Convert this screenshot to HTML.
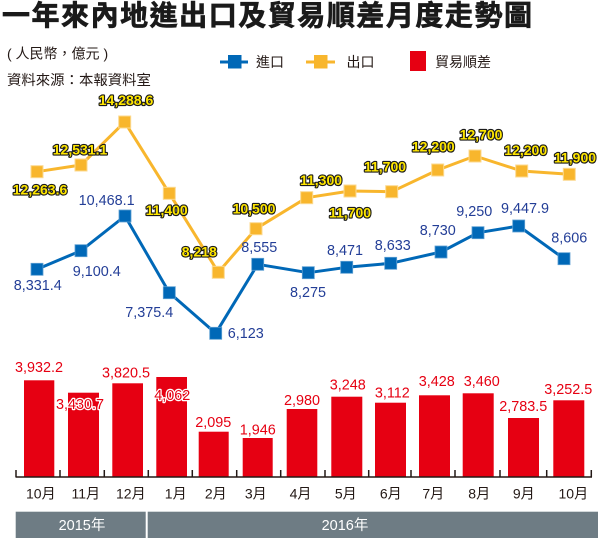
<!DOCTYPE html>
<html><head><meta charset="utf-8"><style>
html,body{margin:0;padding:0;background:#fff;}
svg{display:block;}
.t{font-family:"Liberation Sans","Noto Sans CJK TC",sans-serif;}
.y{font-family:"Liberation Sans",sans-serif;font-weight:bold;font-size:14px;fill:#ffe600;stroke:#1a1a1a;stroke-width:2.3;stroke-linejoin:round;paint-order:stroke;text-anchor:middle;}
.b{font-family:"Liberation Sans",sans-serif;font-size:14.4px;fill:#233e97;text-anchor:middle;}
.r{font-family:"Liberation Sans",sans-serif;font-size:14.4px;fill:#e60012;stroke:#fff;stroke-width:2.5;stroke-linejoin:round;paint-order:stroke;text-anchor:middle;}
.m{font-family:"Liberation Sans","Noto Sans CJK TC",sans-serif;font-size:14px;fill:#231815;text-anchor:middle;}
</style></head><body>
<svg width="600" height="538" viewBox="0 0 600 538" xmlns="http://www.w3.org/2000/svg">
<text class="t" x="2" y="25" font-size="28" font-weight="bold" fill="#1a1a1a" stroke="#1a1a1a" stroke-width="0.7" textLength="530" lengthAdjust="spacing">一年來內地進出口及貿易順差月度走勢圖</text>
<text class="t" x="7" y="58.5" font-size="14" fill="#231815">( 人民幣，億元 )</text>
<text class="t" x="7" y="85" font-size="14.4" fill="#231815">資料來源：本報資料室</text>

<!-- legend -->
<line x1="220" y1="62" x2="248" y2="62" stroke="#0068b7" stroke-width="3"/>
<rect x="228" y="55" width="13.5" height="13.5" fill="#0068b7"/>
<text class="t" x="256" y="67" font-size="14" fill="#231815">進口</text>
<line x1="306" y1="62" x2="335" y2="62" stroke="#f8b62d" stroke-width="3"/>
<rect x="314" y="55" width="13.5" height="13.5" fill="#f8b62d"/>
<text class="t" x="346.5" y="67" font-size="14" fill="#231815">出口</text>
<rect x="410" y="51" width="16" height="20" fill="#e60012"/>
<text class="t" x="435" y="67" font-size="14" fill="#231815">貿易順差</text>

<!-- export line -->
<polyline fill="none" stroke="#f8b62d" stroke-width="3" stroke-linejoin="round" points="37,171.7 81,165 124.7,122 169.3,193.3 218.3,272.3 256,228.7 306.7,197.7 350,191 391.7,191.7 437.7,170 475,156 521.7,171 569.3,174.3"/>
<g fill="#f8b62d" stroke="#fcd98f" stroke-width="1">
<rect x="31" y="165.7" width="12" height="12"/>
<rect x="75" y="159" width="12" height="12"/>
<rect x="118.7" y="116" width="12" height="12"/>
<rect x="163.3" y="187.3" width="12" height="12"/>
<rect x="212.3" y="266.3" width="12" height="12"/>
<rect x="250" y="222.7" width="12" height="12"/>
<rect x="300.7" y="191.7" width="12" height="12"/>
<rect x="344" y="185" width="12" height="12"/>
<rect x="385.7" y="185.7" width="12" height="12"/>
<rect x="431.7" y="164" width="12" height="12"/>
<rect x="469" y="150" width="12" height="12"/>
<rect x="515.7" y="165" width="12" height="12"/>
<rect x="563.3" y="168.3" width="12" height="12"/>
</g>

<!-- import line -->
<polyline fill="none" stroke="#0068b7" stroke-width="3" stroke-linejoin="round" points="37,269.3 81,250.7 125,216 169.3,292.7 215.7,333.3 257.7,264.3 308.3,272.7 346.7,267.3 390.7,263.3 441,252 478,232.7 518.7,226 564,258.7"/>
<g fill="#0068b7" stroke="#5d9fd3" stroke-width="0.8">
<rect x="31" y="263.3" width="12" height="12"/>
<rect x="75" y="244.7" width="12" height="12"/>
<rect x="119" y="210" width="12" height="12"/>
<rect x="163.3" y="286.7" width="12" height="12"/>
<rect x="209.7" y="327.3" width="12" height="12"/>
<rect x="251.7" y="258.3" width="12" height="12"/>
<rect x="302.3" y="266.7" width="12" height="12"/>
<rect x="340.7" y="261.3" width="12" height="12"/>
<rect x="384.7" y="257.3" width="12" height="12"/>
<rect x="435" y="246" width="12" height="12"/>
<rect x="472" y="226.7" width="12" height="12"/>
<rect x="512.7" y="220" width="12" height="12"/>
<rect x="558" y="252.7" width="12" height="12"/>
</g>

<!-- export labels -->
<text class="y" x="40" y="194.3">12,263.6</text>
<text class="y" x="80" y="154.3">12,531.1</text>
<text class="y" x="126" y="105">14,288.6</text>
<text class="y" x="166.7" y="215">11,400</text>
<text class="y" x="199.3" y="256.7">8,218</text>
<text class="y" x="254" y="213.3">10,500</text>
<text class="y" x="321" y="185">11,300</text>
<text class="y" x="350" y="217.7">11,700</text>
<text class="y" x="385" y="171.7">11,700</text>
<text class="y" x="433.3" y="151.7">12,200</text>
<text class="y" x="481" y="139.3">12,700</text>
<text class="y" x="525.7" y="155">12,200</text>
<text class="y" x="575" y="162.3">11,900</text>

<!-- import labels -->
<text class="b" x="37.7" y="290.2">8,331.4</text>
<text class="b" x="96.7" y="275.9">9,100.4</text>
<text class="b" x="106.7" y="205.2">10,468.1</text>
<text class="b" x="149.3" y="316.9">7,375.4</text>
<text class="b" x="245.8" y="337.9">6,123</text>
<text class="b" x="259.3" y="251.9">8,555</text>
<text class="b" x="308" y="296.9">8,275</text>
<text class="b" x="345" y="255.2">8,471</text>
<text class="b" x="392.7" y="250.2">8,633</text>
<text class="b" x="437.7" y="235.2">8,730</text>
<text class="b" x="474.3" y="216.2">9,250</text>
<text class="b" x="525" y="212.9">9,447.9</text>
<text class="b" x="569.3" y="242.5">8,606</text>

<!-- bars -->
<g fill="#e60012">
<rect x="24" y="380.3" width="30.3" height="96.7"/>
<rect x="68" y="392.7" width="31" height="84.3"/>
<rect x="112.3" y="383.3" width="30.7" height="93.7"/>
<rect x="156.3" y="377" width="30.7" height="100"/>
<rect x="198.7" y="431.7" width="30" height="45.3"/>
<rect x="242.7" y="438" width="30" height="39"/>
<rect x="286.7" y="409" width="30.6" height="68"/>
<rect x="331.3" y="396.7" width="31" height="80.3"/>
<rect x="375" y="402.7" width="31" height="74.3"/>
<rect x="419" y="395.3" width="31" height="81.7"/>
<rect x="462.7" y="393.3" width="31" height="83.7"/>
<rect x="508" y="418" width="31" height="59"/>
<rect x="553.3" y="400.3" width="31" height="76.7"/>
</g>

<!-- bar labels -->
<text class="r" x="39" y="371.9">3,932.2</text>
<text class="r" x="80" y="409.2">3,430.7</text>
<text class="r" x="126" y="377.5">3,820.5</text>
<text class="r" x="172.3" y="400.2">4,062</text>
<text class="r" x="213.3" y="426.9">2,095</text>
<text class="r" x="257.7" y="434.5">1,946</text>
<text class="r" x="302" y="405.2">2,980</text>
<text class="r" x="347.7" y="389.5">3,248</text>
<text class="r" x="392.3" y="397.5">3,112</text>
<text class="r" x="436.7" y="386.2">3,428</text>
<text class="r" x="481.7" y="386.2">3,460</text>
<text class="r" x="523.3" y="410.9">2,783.5</text>
<text class="r" x="568.3" y="394.2">3,252.5</text>

<!-- axis -->
<g stroke="#231815" stroke-width="1.5" fill="none">
<line x1="15.5" y1="477" x2="592" y2="477"/>
<path d="M16,470V477 M60,470V477 M104.3,470V477 M148.3,470V477 M192.3,470V477 M236.7,470V477 M280.7,470V477 M325,470V477 M368.7,470V477 M411,470V477 M455,470V477 M500,470V477 M546.7,470V477 M591.3,470V477"/>
</g>

<!-- month labels -->
<text class="m" x="40.8" y="498.5">10月</text>
<text class="m" x="85.8" y="498.5">11月</text>
<text class="m" x="130.8" y="498.5">12月</text>
<text class="m" x="175.7" y="498.5">1月</text>
<text class="m" x="215.8" y="498.5">2月</text>
<text class="m" x="255.8" y="498.5">3月</text>
<text class="m" x="300.5" y="498.5">4月</text>
<text class="m" x="345.8" y="498.5">5月</text>
<text class="m" x="390.8" y="498.5">6月</text>
<text class="m" x="433.3" y="498.5">7月</text>
<text class="m" x="479.2" y="498.5">8月</text>
<text class="m" x="523.8" y="498.5">9月</text>
<text class="m" x="573.3" y="498.5">10月</text>

<!-- year band -->
<rect x="15.7" y="511.7" width="130" height="26.3" fill="#6e7c84"/>
<rect x="147.7" y="511.7" width="450.3" height="26.3" fill="#6e7c84"/>
<text class="t" x="82" y="530" font-size="14.5" fill="#fff" text-anchor="middle">2015年</text>
<text class="t" x="345" y="530" font-size="14.5" fill="#fff" text-anchor="middle">2016年</text>
</svg>
</body></html>
